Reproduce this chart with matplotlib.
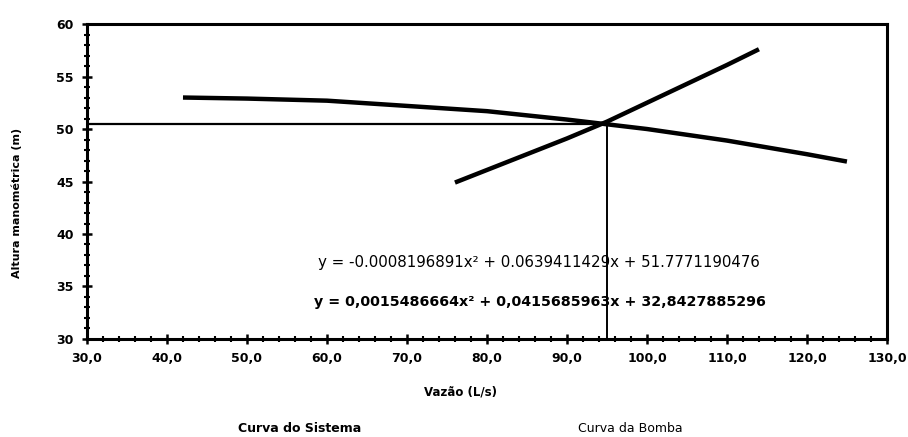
import numpy as np
import matplotlib
matplotlib.use("Agg")
import matplotlib.pyplot as plt
from matplotlib.ticker import MultipleLocator, FuncFormatter

# curva da bomba (vazão L/s x altura m)
pump_q = [42, 50, 60, 70, 80, 90, 100, 110, 120, 125]
pump_h = [53.0, 52.9, 52.7, 52.2, 51.7, 50.9, 50.0, 48.9, 47.6, 46.9]

# curva do sistema
system_q = [76, 80, 85, 90, 95, 100, 105, 110, 114]
system_h = [44.9, 46.1, 47.6, 49.1, 50.7, 52.5, 54.3, 56.1, 57.6]

# ponto de operação
q_op = 95.0
h_op = 50.5

eq_pump = "y = -0.0008196891x\u00b2 + 0.0639411429x + 51.7771190476"
eq_system = "y = 0,0015486664x\u00b2 + 0,0415685963x + 32,8427885296"

fig = plt.figure(figsize=(9.08, 4.37), dpi=100)
ax = fig.add_axes([0.0958, 0.2243, 0.881, 0.7207])

ax.plot(pump_q, pump_h, color="black", lw=3.2, solid_capstyle="butt")
ax.plot(system_q, system_h, color="black", lw=3.2, solid_capstyle="butt")

# linhas de referência até os eixos
ax.plot([30, q_op], [h_op, h_op], color="black", lw=1.6)
ax.plot([q_op, q_op], [30, h_op], color="black", lw=1.4)

ax.set_xlim(30, 130)
ax.set_ylim(30, 60)
ax.xaxis.set_major_locator(MultipleLocator(10))
ax.xaxis.set_minor_locator(MultipleLocator(2))
ax.yaxis.set_major_locator(MultipleLocator(5))
ax.yaxis.set_minor_locator(MultipleLocator(1))
ax.xaxis.set_major_formatter(FuncFormatter(lambda v, p: f"{v:.1f}".replace(".", ",")))
ax.yaxis.set_major_formatter(FuncFormatter(lambda v, p: f"{v:.0f}"))

for s in ax.spines.values():
    s.set_linewidth(2.2)
ax.tick_params(which="major", direction="inout", length=7, width=1.8, labelsize=9, pad=6)
ax.tick_params(which="minor", direction="inout", length=4, width=1.5)
for lab in ax.get_xticklabels() + ax.get_yticklabels():
    lab.set_fontweight("bold")

ax.text(0.565, 0.244, eq_pump, transform=ax.transAxes, ha="center", va="center",
        fontsize=10.8)
ax.text(0.566, 0.117, eq_system, transform=ax.transAxes, ha="center", va="center",
        fontsize=10.3, fontweight="bold")

fig.text(460 / 908, 1 - 392 / 437, "Vazão (L/s)", ha="center", va="center",
         fontsize=8.5, fontweight="bold")
fig.text(17 / 908, 1 - 203 / 437, "Altura manométrica (m)", ha="center", va="center",
         rotation=90, fontsize=8, fontweight="bold")

fig.text(300 / 908, 1 - 428 / 437, "Curva do Sistema", ha="center", va="center",
         fontsize=9, fontweight="bold")
fig.text(630 / 908, 1 - 428 / 437, "Curva da Bomba", ha="center", va="center",
         fontsize=9)

fig.savefig("out.png", dpi=100)
